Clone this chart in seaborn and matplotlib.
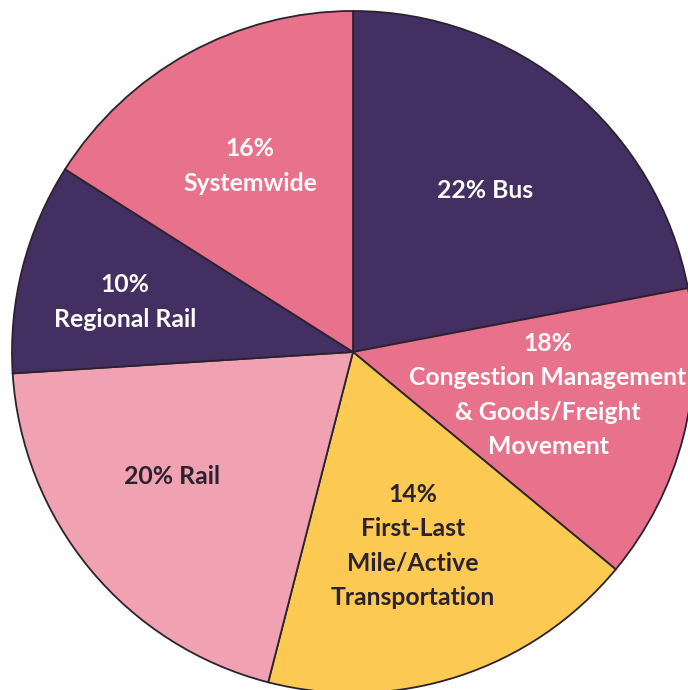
import numpy as np
import matplotlib
matplotlib.use("Agg")
import matplotlib.pyplot as plt
import seaborn as sns

sns.set_style("white")
plt.rcParams['font.family'] = ['Lato', 'DejaVu Sans']

# wedge sizes as drawn (clockwise from 12 o'clock)
categories = ["Bus", "Congestion Management & Goods/Freight Movement",
              "First-Last Mile/Active Transportation", "Rail",
              "Regional Rail", "Systemwide"]
wedge_share = [22, 14, 18, 20, 10, 16]
# percentages as printed on the chart
printed_pct = [22, 18, 14, 20, 10, 16]
label_text = ["22% Bus",
              "18%\nCongestion Management\n& Goods/Freight\nMovement",
              "14%\nFirst-Last\nMile/Active\nTransportation",
              "20% Rail",
              "10%\nRegional Rail",
              "16%\nSystemwide"]

purple = "#432f61"
pink = "#e8728c"
yellow = "#fcc952"
light_pink = "#f0a1b2"
colors = sns.color_palette([purple, pink, yellow, light_pink, purple, pink])
text_colors = ["white", "white", "#2a2230", "#2a2230", "white", "white"]

# label anchor points in pixels of the original picture
label_px = [(485, 191), (548, 395), (413, 546), (172, 476), (125, 302), (250, 166)]

W, H = 688, 690
cx, cy, R = 353, 352, 341

fig = plt.figure(figsize=(W / 100, H / 100), dpi=100)
ax = fig.add_axes([0, 0, 1, 1])

ax.pie(wedge_share, colors=colors, startangle=90, counterclock=False,
       radius=1, center=(0, 0),
       wedgeprops=dict(edgecolor="#2b2230", linewidth=1.3))

for txt, (px, py), tc in zip(label_text, label_px, text_colors):
    ax.text((px - cx) / R, (cy - py) / R, txt, ha="center", va="center",
            color=tc, fontsize=17.8, fontweight="bold", linespacing=1.58)

ax.set_xlim(-cx / R, (W - cx) / R)
ax.set_ylim((cy - H) / R, cy / R)
ax.set_aspect("equal")
ax.axis("off")

fig.savefig("out.png", dpi=100)
